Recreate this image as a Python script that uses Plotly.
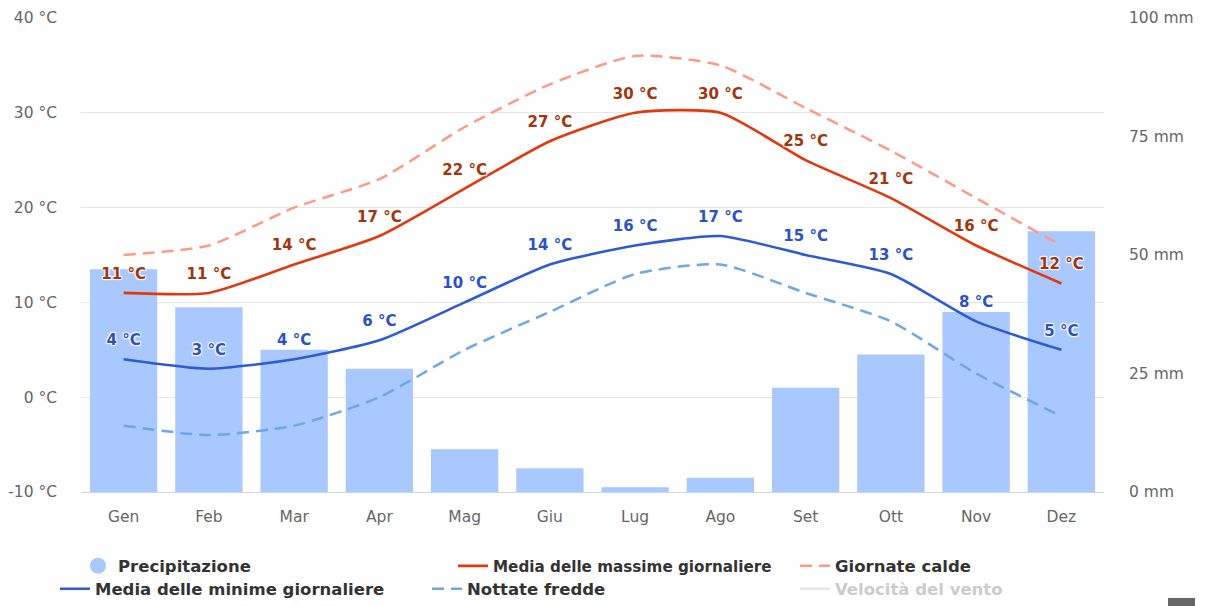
import plotly.graph_objects as go

# Monthly climate data
months = ["Gen", "Feb", "Mar", "Apr", "Mag", "Giu", "Lug", "Ago", "Set", "Ott", "Nov", "Dez"]
precip_mm = [47, 39, 30, 26, 9, 5, 1, 3, 22, 29, 38, 55]
max_temp = [11, 11, 14, 17, 22, 27, 30, 30, 25, 21, 16, 12]
min_temp = [4, 3, 4, 6, 10, 14, 16, 17, 15, 13, 8, 5]
hot_days = [15, 16, 20, 23, 28.5, 33, 36, 35, 30.5, 26, 21, 16]
cold_nights = [-3, -4, -3, 0, 5, 9, 13, 14, 11, 8, 2.5, -2]
wind_speed = [None] * 12

temp_ticks = [-10, 0, 10, 20, 30, 40]
mm_ticks = [0, 25, 50, 75, 100]

FONT = "DejaVu Sans"
BAR_BLUE = "#a9c8fd"
HALO = "1px 1px 1px #fff, -1px -1px 1px #fff, 1px -1px 1px #fff, -1px 1px 1px #fff"
SMOOTH = 0.6
CLEAR = "rgba(0,0,0,0)"

fig = go.Figure()

# Precipitation bars on the mm axis (drawn first, below the temperature lines)
fig.add_trace(go.Bar(
    x=months, y=precip_mm, yaxis="y", marker=dict(color=BAR_BLUE, line=dict(width=0)),
    width=0.79, showlegend=False, name="Precipitazione", hoverinfo="skip",
))
# legend entry with a round swatch for the bars
fig.add_trace(go.Scatter(
    x=[None], y=[None], mode="markers", name="Precipitazione", legend="legend",
    marker=dict(symbol="circle", size=16, color=BAR_BLUE), yaxis="y2",
))

fig.add_trace(go.Scatter(
    x=months, y=hot_days, mode="lines", name="Giornate calde", legend="legend3",
    line=dict(color="#fd9a86", width=2.5, dash="12px,7px", shape="spline", smoothing=SMOOTH),
    yaxis="y2",
))
fig.add_trace(go.Scatter(
    x=months, y=cold_nights, mode="lines", name="Nottate fredde", legend="legend5",
    line=dict(color="#6ea6e6", width=2.5, dash="12px,7px", shape="spline", smoothing=SMOOTH),
    yaxis="y2",
))
fig.add_trace(go.Scatter(
    x=months, y=max_temp, mode="lines+markers+text", name="Media delle massime giornaliere",
    legend="legend2", yaxis="y2",
    line=dict(color="#e2380f", width=2.6, shape="spline", smoothing=SMOOTH),
    marker=dict(size=15, color=CLEAR, line=dict(width=0)),
    text=[f"{v} °C" for v in max_temp], textposition="top center",
    textfont=dict(family=FONT, size=15, color="#a0360f", weight="bold", shadow=HALO),
))
fig.add_trace(go.Scatter(
    x=months, y=min_temp, mode="lines+markers+text", name="Media delle minime giornaliere",
    legend="legend4", yaxis="y2",
    line=dict(color="#2d5bd6", width=2.6, shape="spline", smoothing=SMOOTH),
    marker=dict(size=15, color=CLEAR, line=dict(width=0)),
    text=[f"{v} °C" for v in min_temp], textposition="top center",
    textfont=dict(family=FONT, size=15, color="#2c52c4", weight="bold", shadow=HALO),
))
fig.add_trace(go.Scatter(
    x=months, y=wind_speed, mode="lines", name="Velocità del vento", legend="legend6",
    line=dict(color="#cccccc", width=2.5), visible="legendonly", yaxis="y2",
))

# Plot area spans x 81..1104 px and y 18..492 px
L, R, T, B = 81, 102, 18, 114
PW = 1206 - L - R
PH = 606 - T - B


def px_x(x):
    return (x - L) / PW


def px_y(y):
    return (606 - B - y) / PH


def make_legend(x_px, y_px, color="#333333", size=16.5):
    return dict(
        x=px_x(x_px), y=px_y(y_px), xanchor="left", yanchor="middle",
        orientation="h", bgcolor="rgba(0,0,0,0)", borderwidth=0,
        font=dict(family=FONT, size=size, color=color, weight="bold"),
        itemclick=False, itemdoubleclick=False,
    )


tick_font = dict(family=FONT, size=15.5, color="#666666")

fig.update_layout(
    width=1206, height=606,
    margin=dict(l=L, r=R, t=T, b=B, pad=0, autoexpand=False),
    paper_bgcolor="white", plot_bgcolor="white",
    font=dict(family=FONT, size=15, color="#666666"),
    bargap=0.21,
    showlegend=True,
    xaxis=dict(
        type="category", range=[-0.5, 11.5], showgrid=False, showline=True,
        linecolor="#ccd6eb", linewidth=1, ticks="", ticklabelstandoff=10,
        tickfont=tick_font, fixedrange=True,
    ),
    yaxis=dict(
        side="right", range=[0, 100], tickvals=mm_ticks, ticktext=[f"{v} mm" for v in mm_ticks],
        showgrid=False, zeroline=False, showline=False, ticks="", ticklabelstandoff=24,
        tickfont=tick_font, fixedrange=True,
    ),
    yaxis2=dict(
        side="left", overlaying="y", range=[-10, 40], tickvals=temp_ticks,
        ticktext=[f"{v} °C" for v in temp_ticks],
        showgrid=True, gridcolor="#e6e6e6", gridwidth=1, zeroline=False, showline=False,
        ticks="", ticklabelstandoff=23,
        tickfont=tick_font, fixedrange=True,
    ),
    legend=make_legend(78, 566),
    legend2=make_legend(453, 566, size=15.2),
    legend3=make_legend(795, 566),
    legend4=make_legend(55, 589),
    legend5=make_legend(427, 589),
    legend6=make_legend(795, 589, color="#999999"),
    shapes=[dict(
        type="rect", xref="paper", yref="paper",
        x0=px_x(1168), x1=px_x(1195), y0=px_y(606), y1=px_y(598),
        fillcolor="#666666", line=dict(width=0), layer="above",
    )],
)

fig.write_html("out.html", config={"displayModeBar": False})
